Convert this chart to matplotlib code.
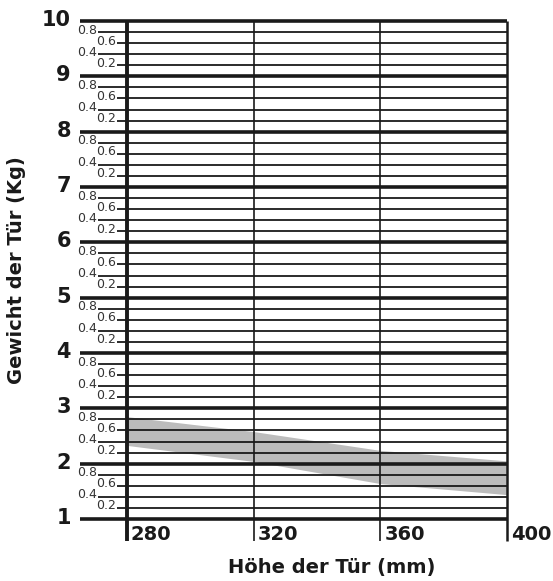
import matplotlib.pyplot as plt
import numpy as np

# door height (mm) vs weight band (kg)
hoehe = [280, 320, 360, 400]
gewicht_oben = [2.85, 2.58, 2.24, 2.05]
gewicht_unten = [2.33, 2.04, 1.64, 1.44]

x_ticks = [280, 320, 360, 400]
y_major = [1, 2, 3, 4, 5, 6, 7, 8, 9, 10]
minor_labels = ['0.2', '0.4', '0.6', '0.8']

W, H = 553, 581
fig = plt.figure(figsize=(W / 100, H / 100), dpi=100)
# axes box in pixels: x 127..507, y 21..519 (from top)
ax = fig.add_axes([127 / W, (H - 519) / H, (507 - 127) / W, (519 - 21) / H])
ax.set_xlim(280, 400)
ax.set_ylim(1, 10)
ax.axis('off')

px = 120 / 380.0  # data units per pixel in x
py = 9 / 498.0    # data units per pixel in y
dark = '#1a1a1a'

# grey band
ax.fill_between(hoehe, gewicht_unten, gewicht_oben, color='#bcbcbc', lw=0, zorder=1)

# horizontal lines
for v in y_major:
    ax.plot([280 - 47 * px, 400], [v, v], color=dark, lw=2.6, solid_capstyle='butt',
            clip_on=False, zorder=3)
    ax.text(280 - 56 * px, v + 1 * py, str(v), ha='right', va='center', fontsize=15,
            fontweight='heavy', color=dark, clip_on=False)
    if v == 10:
        continue
    for k, lab in enumerate(minor_labels):
        y = v + 0.2 * (k + 1)
        if lab in ('0.8', '0.4'):
            x0 = 280 - 29 * px
            xt = 280 - 30 * px
        else:
            x0 = 280 - 10 * px
            xt = 280 - 11 * px
        ax.plot([x0, 400], [y, y], color=dark, lw=1.3, solid_capstyle='butt',
                clip_on=False, zorder=3)
        ax.text(xt, y + 2 * py, lab, ha='right', va='center', fontsize=9,
                color='#333333', clip_on=False)

# vertical lines
for i, xv in enumerate(x_ticks):
    lw = 2.8 if xv == 280 else (1.8 if xv == 400 else 1.2)
    ax.plot([xv, xv], [1 - 22 * py, 10], color=dark, lw=lw, solid_capstyle='butt',
            clip_on=False, zorder=4)
    ax.text(xv + 4 * px, 1 - 15 * py, str(xv), ha='left', va='center', fontsize=14,
            fontweight='heavy', color=dark, clip_on=False)

fig.text(332 / W, 1 - 567 / H, 'Höhe der Tür (mm)', ha='center', va='center',
         fontsize=14, fontweight='heavy', color=dark)
fig.text(17 / W, 1 - 270 / H, 'Gewicht der Tür (Kg)', ha='center', va='center',
         rotation=90, fontsize=14, fontweight='heavy', color=dark)

fig.savefig('out.png', dpi=100)
